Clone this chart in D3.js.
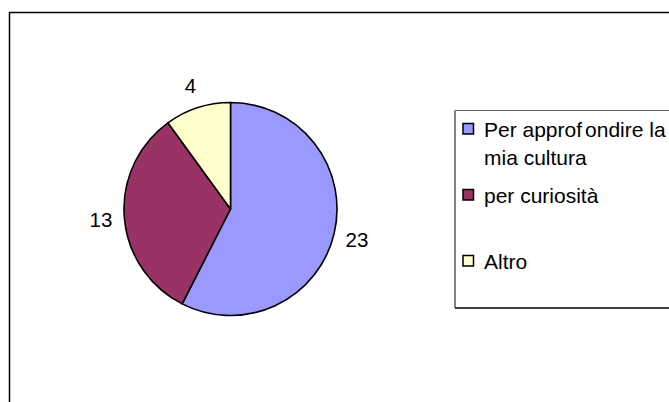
<!DOCTYPE html>
<html>
<head>
<meta charset="utf-8">
<script src="https://cdn.jsdelivr.net/npm/d3@7"></script>
<style>
  html, body { margin: 0; padding: 0; background: #fff; }
  svg { display: block; }
  text { font-family: "Liberation Sans", Arial, Helvetica, sans-serif; fill: #000; }
</style>
</head>
<body>
<svg id="chart" width="669" height="402"></svg>
<script>
const categories = ["Per approfondire la mia cultura", "per curiosità", "Altro"];
const legendLines = [["Per approf", "ondire la", "mia cultura"], ["per curiosità"], ["Altro"]];
const values = [23, 13, 4];
const colors = ["#9999FF", "#993366", "#FFFFCC"];

const svg = d3.select("#chart");
const W = 669, H = 402;

// outer chart frame (extends beyond the visible area on right/bottom)
svg.append("rect")
  .attr("x", 9.5).attr("y", 12.5)
  .attr("width", 700).attr("height", 420)
  .attr("fill", "#fff").attr("stroke", "#000").attr("stroke-width", 1.5);

const cx = 230.5, cy = 209, r = 106.5;
const pie = d3.pie().sort(null).value(d => d.v).startAngle(0).endAngle(2 * Math.PI);
const data = pie(values.map((v, i) => ({ v, c: categories[i], col: colors[i] })));
const arc = d3.arc().innerRadius(0).outerRadius(r);
const labelArc = d3.arc().innerRadius(130).outerRadius(130);

const g = svg.append("g").attr("transform", `translate(${cx},${cy})`);
g.selectAll("path.slice").data(data).enter().append("path")
  .attr("class", "slice")
  .attr("d", arc)
  .attr("fill", d => d.data.col)
  .attr("stroke", "#000")
  .attr("stroke-width", 1.6)
  .attr("stroke-linejoin", "round");

g.selectAll("text.lbl").data(data).enter().append("text")
  .attr("class", "lbl")
  .attr("x", d => labelArc.centroid(d)[0])
  .attr("y", d => labelArc.centroid(d)[1])
  .attr("text-anchor", "middle")
  .attr("dominant-baseline", "central")
  .attr("font-size", 20.5)
  .text(d => d.data.v);

// legend box
const lx = 455, ly = 110.5, lb = 308;
svg.append("rect").attr("x", lx).attr("y", ly).attr("width", 260).attr("height", lb - ly)
  .attr("fill", "#fff").attr("stroke", "none");
svg.append("line").attr("x1", lx).attr("x2", 700).attr("y1", ly).attr("y2", ly)
  .attr("stroke", "#666").attr("stroke-width", 1.2);
svg.append("line").attr("x1", lx).attr("x2", lx).attr("y1", ly).attr("y2", lb)
  .attr("stroke", "#777").attr("stroke-width", 1.8);
svg.append("line").attr("x1", lx).attr("x2", 700).attr("y1", lb).attr("y2", lb)
  .attr("stroke", "#000").attr("stroke-width", 1.6);

const rowBase = [137, 203, 269];
const sw = 10.5;
const leg = svg.append("g");
categories.forEach((c, i) => {
  const yb = rowBase[i];
  leg.append("rect")
    .attr("x", 463).attr("y", yb - 13.5)
    .attr("width", sw).attr("height", sw)
    .attr("fill", colors[i]).attr("stroke", "#000").attr("stroke-width", 1.5);
  const lines = legendLines[i];
  if (i === 0) {
    const t = leg.append("text").attr("x", 484).attr("y", yb).attr("font-size", 21);
    t.append("tspan").text(lines[0]);
    t.append("tspan").attr("dx", 3).text(lines[1]);
    leg.append("text").attr("x", 484).attr("y", yb + 28).attr("font-size", 21).text(lines[2]);
  } else {
    leg.append("text").attr("x", 484).attr("y", yb).attr("font-size", 21).text(lines[0]);
  }
});
</script>
</body>
</html>
